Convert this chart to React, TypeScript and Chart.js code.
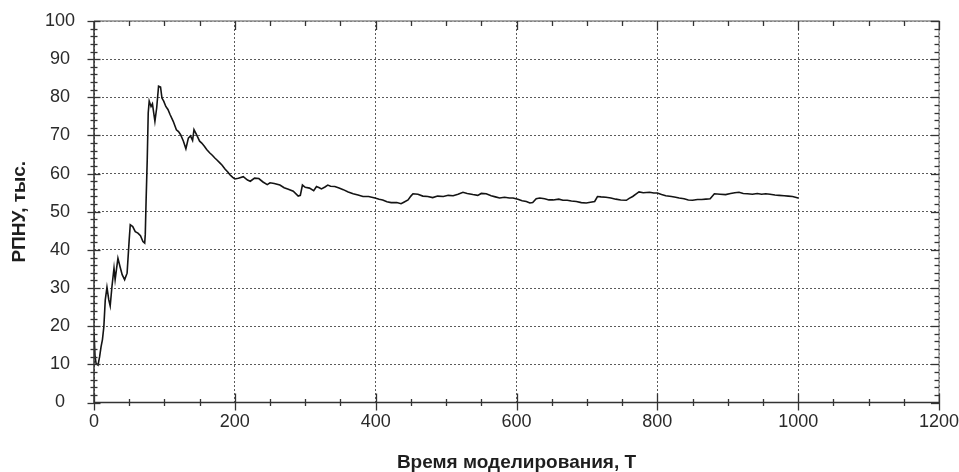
import React, { useEffect, useRef } from "react";
import { Chart, registerables } from "chart.js";

Chart.register(...registerables);

const xTitle = "Время моделирования, T";
const yTitle = "РПНУ, тыс.";

const xMin = 0;
const xMax = 1200;
const xMajor = 200;
const xMinor = 50;
const yMin = 0;
const yMax = 100;
const yMajor = 10;
const yMinor = 2;

const timeT = [
  0, 1.5, 3, 5.7, 8, 10, 12, 14, 16, 18.4, 21, 23, 25.5, 28.4, 30, 32, 34, 37, 40, 43.5, 47, 50, 51.5, 55, 58.6,
  62.4, 66, 69.5, 72, 72.8, 74, 75.6, 77, 78.4, 81, 83, 86.5, 89, 91.7, 94.5, 96.5, 99, 102, 105, 108, 112.5, 117,
  120, 123, 127, 130.5, 134, 137, 140, 142, 145.6, 150, 153, 157, 160, 164.5, 168, 171.6, 175, 178.7, 182, 186, 190,
  193, 197, 200, 205, 212, 218, 222, 228, 234, 240, 246, 250, 256, 264, 270, 276, 283, 290, 293, 296, 300, 306, 312,
  316, 320, 323, 328, 332, 336, 342, 348, 354, 361, 368, 375, 382, 390, 399, 405, 410, 416, 422, 430, 436, 440, 446,
  450, 453, 460, 467, 474, 481, 488, 496, 503, 510, 517, 524, 530, 538, 545, 550, 557, 564, 570, 576, 583, 590, 595,
  602, 608, 614, 619, 623, 628, 633, 640, 646, 652, 660, 666, 672, 678, 685, 692, 699, 705, 711, 715, 720, 727, 734,
  741, 748, 756, 760, 765, 770, 774, 780, 789, 795, 800, 806, 812, 820, 826, 831, 838, 844, 850, 857, 863, 869, 875,
  881, 889, 897, 904, 910, 916, 922, 928, 935, 942, 948, 954, 960, 967, 973, 980, 986, 992, 996, 1000,
];

const rpnu = [
  18.5, 12, 10.2, 9.8, 12, 14.6, 16.5, 19.9, 26.9, 30.2, 26.9, 25.3, 30.4, 35.2, 32.2, 35, 37.8, 35.6, 33.5, 32.2,
  33.9, 42.7, 46.6, 46.1, 44.8, 44.4, 43.7, 42.2, 41.8, 44, 53, 63.6, 75.9, 79, 77.6, 78.3, 73.7, 77.2, 82.9, 82.7,
  79.8, 79, 77.6, 76.8, 75.5, 73.7, 71.5, 71.0, 70.2, 68.5, 66.5, 69.3, 69.9, 68.7, 71.5, 70.2, 68.5, 68.0, 67.1,
  66.3, 65.4, 64.8, 64.1, 63.5, 62.8, 62.2, 61.2, 60.4, 59.7, 59.0, 58.6, 58.8, 59.2, 58.3, 58.0, 58.8, 58.7, 57.8,
  57.1, 57.6, 57.4, 57.0, 56.3, 55.9, 55.4, 54.1, 54.3, 57.0, 56.4, 56.2, 55.5, 56.6, 56.3, 56.0, 56.5, 57.0, 56.7,
  56.6, 56.2, 55.8, 55.2, 54.7, 54.4, 54.0, 54.0, 53.6, 53.3, 53.1, 52.6, 52.4, 52.4, 52.1, 52.5, 53.1, 54.1, 54.7,
  54.6, 54.1, 54.0, 53.7, 54.1, 54.0, 54.3, 54.2, 54.6, 55.1, 54.8, 54.5, 54.3, 54.8, 54.7, 54.2, 53.9, 53.6, 53.8,
  53.6, 53.6, 53.3, 52.9, 52.7, 52.3, 52.4, 53.4, 53.6, 53.4, 53.1, 53.1, 53.3, 53.0, 53.0, 52.8, 52.7, 52.4, 52.3,
  52.5, 52.7, 54.0, 53.9, 53.8, 53.6, 53.3, 53.1, 53.0, 53.5, 54.0, 54.7, 55.2, 55.0, 55.1, 54.9, 54.9, 54.5, 54.2,
  54.0, 53.8, 53.6, 53.4, 53.1, 53.0, 53.2, 53.2, 53.3, 53.4, 54.7, 54.6, 54.5, 54.8, 55.0, 55.1, 54.8, 54.7, 54.6,
  54.8, 54.6, 54.7, 54.6, 54.4, 54.3, 54.2, 54.1, 54.0, 53.8, 53.6,
];

const FONT = "'Liberation Sans', Arial, sans-serif";

const frameTicks = {
  id: "frameTicks",
  afterDraw(chart: any) {
    const { ctx, chartArea, scales } = chart;
    const { left, right, top, bottom } = chartArea;
    const x = scales.x;
    const y = scales.y;
    ctx.save();
    ctx.lineWidth = 1.3;
    ctx.strokeStyle = "#8c8c8c";
    ctx.beginPath();
    ctx.moveTo(left, top);
    ctx.lineTo(right, top);
    ctx.lineTo(right, bottom);
    ctx.stroke();
    ctx.strokeStyle = "#333";
    ctx.lineWidth = 1.5;
    ctx.beginPath();
    ctx.moveTo(left, top);
    ctx.lineTo(left, bottom);
    ctx.lineTo(right, bottom);
    ctx.stroke();

    ctx.lineWidth = 1.3;
    ctx.strokeStyle = "#333";
    for (let v = xMin; v <= xMax; v += xMinor) {
      const px = Math.round(x.getPixelForValue(v)) + 0.5;
      const major = v % xMajor === 0;
      ctx.beginPath();
      ctx.moveTo(px, bottom - (major ? 9 : 3.5));
      ctx.lineTo(px, bottom + (major ? 8 : 3.5));
      ctx.stroke();
      ctx.beginPath();
      ctx.moveTo(px, top);
      ctx.lineTo(px, top + (major ? 9 : 5));
      ctx.stroke();
    }
    for (let v = yMin; v <= yMax; v += yMinor) {
      const py = Math.round(y.getPixelForValue(v)) + 0.5;
      const major = v % yMajor === 0;
      const a = major ? 6.5 : 3.5;
      ctx.beginPath();
      ctx.moveTo(left - a, py);
      ctx.lineTo(left + a, py);
      ctx.stroke();
      ctx.beginPath();
      ctx.moveTo(right, py);
      ctx.lineTo(right - (major ? 8 : 4.5), py);
      ctx.stroke();
    }
    ctx.restore();
  },
};

export default function App() {
  const ref = useRef<HTMLCanvasElement | null>(null);

  useEffect(() => {
    if (!ref.current) return;
    const points = timeT.map((t, i) => ({ x: t, y: rpnu[i] }));
    const chart = new Chart(ref.current, {
      type: "line",
      data: {
        datasets: [
          {
            data: points,
            borderColor: "#141414",
            borderWidth: 1.6,
            pointRadius: 0,
            tension: 0,
            fill: false,
          },
        ],
      },
      options: {
        animation: false,
        responsive: false,
        maintainAspectRatio: false,
        layout: { padding: { left: 0, right: 20, top: 21, bottom: 0 } },
        plugins: { legend: { display: false }, tooltip: { enabled: false } },
        scales: {
          x: {
            type: "linear",
            min: xMin,
            max: xMax,
            afterFit: (s: any) => {
              s.height = 69.5;
              s.paddingLeft = 0;
              s.paddingRight = 0;
            },
            ticks: {
              stepSize: xMajor,
              color: "#2a2a2a",
              font: { family: FONT, size: 18 },
              padding: 9,
              maxRotation: 0,
              callback: (v: any) => String(v),
            },
            grid: { color: "#5a5a5a", lineWidth: 1, drawTicks: false },
            border: { display: false, dash: [2, 2] },
            title: {
              display: true,
              text: xTitle,
              color: "#1e1e1e",
              font: { family: FONT, size: 19, weight: "bold", lineHeight: 1 },
              padding: { top: 0, bottom: 0 },
            },
          },
          y: {
            type: "linear",
            min: yMin,
            max: yMax,
            afterFit: (s: any) => {
              s.width = 94;
              s.paddingTop = 0;
              s.paddingBottom = 0;
            },
            ticks: {
              stepSize: yMajor,
              color: "#2a2a2a",
              font: { family: FONT, size: 18 },
              padding: 19,
              crossAlign: "center",
              callback: (v: any) => String(v),
            },
            grid: { color: "#5a5a5a", lineWidth: 1, drawTicks: false },
            border: { display: false, dash: [2, 2] },
            title: {
              display: true,
              text: yTitle,
              color: "#1e1e1e",
              font: { family: FONT, size: 19, weight: "bold", lineHeight: 1 },
              padding: { top: 10, bottom: 0 },
            },
          },
        },
      },
      plugins: [frameTicks],
    });
    return () => chart.destroy();
  }, []);

  return (
    <div style={{ position: "fixed", left: 0, top: 0, width: 959, height: 472, background: "#fff" }}>
      <canvas ref={ref} width={959} height={472} style={{ display: "block" }} />
    </div>
  );
}
